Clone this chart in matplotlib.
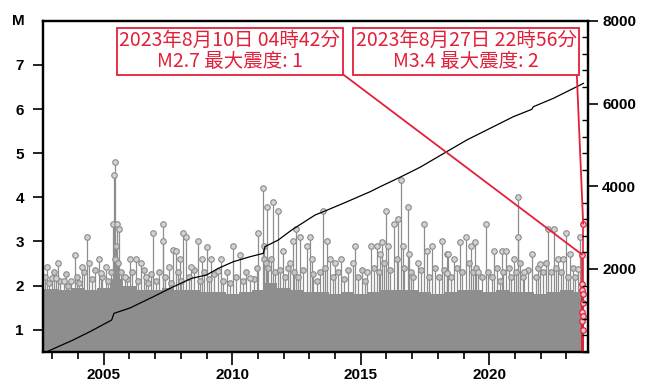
import matplotlib
matplotlib.use('Agg')
import matplotlib.pyplot as plt
from matplotlib.ticker import MultipleLocator

plt.rcParams['font.family'] = ['Liberation Sans', 'DejaVu Sans']
plt.rcParams['ytick.major.size'] = 7
plt.rcParams['ytick.major.pad'] = 7
plt.rcParams['ytick.major.width'] = 1.2
plt.rcParams['xtick.major.size'] = 9
plt.rcParams['xtick.major.pad'] = 2.5
plt.rcParams['xtick.major.width'] = 1.2
plt.rcParams['xtick.minor.size'] = 5
plt.rcParams['xtick.minor.width'] = 1.2

# ---- data ----
# notable events with visible circles: decimal year, magnitude
ev_year = [2002.80, 2002.97, 2003.14, 2003.23, 2003.45, 2003.71, 2003.88, 2004.14,
           2004.35, 2004.44, 2004.80, 2004.89, 2005.09, 2005.40, 2005.42, 2005.38,
           2005.51, 2005.60, 2005.82, 2006.02, 2006.25, 2006.47, 2006.64, 2006.93,
           2007.29, 2007.30, 2007.54, 2007.68, 2007.81,
           2007.97, 2008.09, 2008.20, 2008.39, 2008.65, 2008.83, 2009.00, 2009.17,
           2009.46, 2009.56, 2010.04, 2010.30, 2010.69, 2011.01, 2011.21, 2011.34,
           2011.57, 2011.79, 2011.98, 2012.25, 2012.35, 2012.48, 2012.63, 2012.90,
           2013.02,
           2013.09, 2013.54, 2013.67, 2013.80, 2014.00, 2014.23, 2014.69, 2014.77,
           2015.23, 2015.40, 2015.62, 2015.75, 2015.81, 2015.98, 2016.05, 2016.30,
           2016.46, 2016.55, 2016.63, 2016.82, 2016.88, 2017.24, 2017.46, 2017.56,
           2017.78, 2018.15, 2018.37,
           2018.34, 2018.40, 2018.64, 2018.86, 2019.09, 2019.29, 2019.44, 2019.57,
           2019.86, 2020.19, 2020.48, 2020.64, 2020.95, 2021.11, 2021.12, 2021.36,
           2021.65, 2021.97, 2022.30, 2022.53, 2022.69, 2022.87, 2022.97, 2023.14,
           2023.46, 2023.53]
ev_mag = [2.41, 2.18, 2.18, 2.50, 2.10, 2.10, 2.70, 2.41,
          3.09, 2.50, 2.60, 2.29, 2.41, 4.50, 4.79, 3.40,
          3.40, 3.29, 2.20, 2.60, 2.60, 2.50, 2.20, 3.20,
          3.40, 3.00, 2.42, 2.81, 2.79,
          2.60, 3.20, 3.09, 2.41, 3.01, 2.60, 2.88, 2.60,
          2.34, 2.60, 2.90, 2.70, 2.18, 3.20, 4.20, 3.79,
          3.90, 3.69, 2.79, 2.50, 3.01, 3.28, 3.09, 2.90,
          3.09,
          2.60, 3.69, 3.00, 2.60, 2.50, 2.60, 2.50, 2.90,
          2.30, 2.90, 2.90, 2.71, 2.98, 3.69, 2.90, 3.39,
          3.50, 4.39, 2.90, 3.78, 2.71, 2.50, 3.39, 2.79,
          2.90, 3.00, 2.71,
          2.28, 2.71, 2.60, 2.99, 3.10, 2.90, 2.99, 2.30,
          3.39, 2.79, 2.79, 2.79, 2.60, 3.09, 4.00, 2.30,
          2.71, 2.48, 3.29, 3.29, 2.60, 2.60, 3.18, 2.71,
          2.37, 3.09]

# smaller events forming the ragged top of the grey mass
minor_year = [2002.70, 2002.88, 2003.05, 2003.30, 2003.55, 2003.62, 2003.95, 2004.05,
              2004.22, 2004.55, 2004.65, 2004.95, 2005.18, 2005.30, 2005.45, 2005.48,
              2005.55, 2005.68, 2005.90, 2006.10, 2006.35, 2006.55, 2006.72, 2006.85,
              2007.05, 2007.15, 2007.40, 2007.60, 2007.90, 2008.00, 2008.30, 2008.50,
              2008.75, 2008.92, 2009.08, 2009.30, 2009.65, 2009.80, 2009.92, 2010.15,
              2010.40, 2010.55, 2010.85, 2010.95, 2011.22, 2011.25, 2011.30, 2011.40,
              2011.50, 2011.65, 2011.85, 2012.05, 2012.15, 2012.40, 2012.55, 2012.75,
              2013.15, 2013.30, 2013.42, 2013.60, 2013.90, 2014.10, 2014.35, 2014.50,
              2014.90, 2015.05, 2015.15, 2015.50, 2015.70, 2015.90, 2016.15, 2016.40,
              2016.70, 2016.95, 2017.05, 2017.35, 2017.65, 2017.90, 2018.05, 2018.25,
              2018.50, 2018.75, 2018.95, 2019.20, 2019.35, 2019.50, 2019.70, 2019.95,
              2020.10, 2020.30, 2020.40, 2020.55, 2020.75, 2020.85, 2021.05, 2021.20,
              2021.30, 2021.50, 2021.80, 2021.90, 2022.10, 2022.20, 2022.40, 2022.60,
              2022.80, 2023.05, 2023.25, 2023.35]
minor_mag = [2.20, 2.05, 2.30, 2.10, 2.25, 2.00, 2.20, 2.05,
             2.30, 2.15, 2.35, 2.20, 2.10, 2.30, 2.60, 2.90,
             2.50, 2.30, 2.15, 2.30, 2.10, 2.35, 2.05, 2.25,
             2.10, 2.30, 2.20, 2.05, 2.30, 2.10, 2.20, 2.35,
             2.10, 2.30, 2.15, 2.25, 2.10, 2.30, 2.05, 2.20,
             2.10, 2.30, 2.15, 2.40, 2.60, 2.90, 2.50, 2.40,
             2.60, 2.30, 2.35, 2.20, 2.40, 2.30, 2.20, 2.35,
             2.25, 2.10, 2.30, 2.40, 2.20, 2.30, 2.15, 2.35,
             2.20, 2.35, 2.10, 2.40, 2.30, 2.50, 2.35, 2.60,
             2.40, 2.30, 2.20, 2.35, 2.20, 2.40, 2.20, 2.35,
             2.20, 2.40, 2.30, 2.50, 2.30, 2.40, 2.20, 2.30,
             2.20, 2.40, 2.10, 2.30, 2.40, 2.20, 2.30, 2.50,
             2.20, 2.35, 2.20, 2.40, 2.30, 2.50, 2.30, 2.40,
             2.30, 2.20, 2.40, 2.20]

# dense body of small events: top of the solid grey mass (half-year steps)
body_year = [2002.65, 2003.25, 2003.75, 2004.25, 2004.75, 2005.25, 2005.75, 2006.25,
             2006.75, 2007.25, 2007.75, 2008.25, 2008.75, 2009.25, 2009.75, 2010.25,
             2010.75, 2011.25, 2011.75, 2012.25, 2012.75, 2013.25, 2013.75, 2014.25,
             2014.75, 2015.25, 2015.75, 2016.25, 2016.75, 2017.25, 2017.75, 2018.25,
             2018.75, 2019.25, 2019.75, 2020.25, 2020.75, 2021.25, 2021.75, 2022.25,
             2022.75, 2023.25, 2023.58]
body_mag = [1.92, 1.90, 1.95, 1.90, 1.95, 2.15, 2.00, 1.90,
            1.90, 1.95, 1.90, 1.90, 1.85, 1.85, 1.80, 1.85,
            1.90, 2.05, 1.95, 1.90, 1.85, 1.85, 1.80, 1.85,
            1.80, 1.85, 1.90, 1.90, 1.90, 1.85, 1.80, 1.85,
            1.90, 1.90, 1.85, 1.90, 1.85, 1.85, 1.80, 1.85,
            1.90, 1.85, 1.85]

# cumulative number of events (right axis)
cum_year = [2002.79, 2003.81, 2004.46, 2005.31, 2005.40, 2006.02, 2006.93, 2007.58,
            2008.42, 2009.00, 2009.46, 2010.04, 2010.69, 2011.21, 2011.27, 2011.79,
            2012.31, 2013.22, 2013.54, 2014.32, 2015.36, 2015.75, 2016.52, 2017.30,
            2018.34, 2019.12, 2020.03, 2020.93, 2021.65, 2021.71, 2022.49, 2023.27,
            2023.66]
cum_count = [0, 283, 483, 766, 928, 1056, 1329, 1532,
             1774, 1854, 2016, 2175, 2296, 2378, 2538, 2700,
             2941, 3304, 3384, 3587, 3867, 3988, 4215, 4457,
             4834, 5117, 5400, 5680, 5859, 5922, 6125, 6366,
             6487]

# August 2023 events (red)
red_year = [2023.600, 2023.605, 2023.615, 2023.620, 2023.630, 2023.640, 2023.645, 2023.660]
red_mag = [1.90, 1.20, 2.04, 1.40, 1.60, 1.00, 1.80, 1.30]
ann_year = [2023.61, 2023.65]
ann_mag = [2.7, 3.4]
ann_text = ['2023年8月10日 04時42分\nM2.7 最大震度: 1',
            '2023年8月27日 22時56分\nM3.4 最大震度: 2']

x_ticks = [2005, 2010, 2015, 2020]
m_ticks = [1, 2, 3, 4, 5, 6, 7]
cum_ticks = [2000, 4000, 6000, 8000]

GRAY = '#8e8e8e'
RED = '#e2203a'

fig = plt.figure(figsize=(6.52, 3.85), dpi=100)
ax = fig.add_axes([0.0664, 0.0865, 0.8359, 0.8595])

ax.fill_between(body_year, 0.5, body_mag, step='post', color=GRAY, lw=0, zorder=1)
ax.vlines(minor_year, 0.5, minor_mag, color=GRAY, lw=0.9, zorder=2)
ax.plot(minor_year, minor_mag, 'o', ms=4, mfc='#c4c4c4', mec='#8a8a8a', mew=0.8, zorder=3)
ax.vlines(ev_year, 0.5, ev_mag, color=GRAY, lw=0.9, zorder=2)
ax.plot(ev_year, ev_mag, 'o', ms=4, mfc='#d2d2d2', mec='#8a8a8a', mew=0.8, zorder=3)

all_red_y = red_year + ann_year
all_red_m = red_mag + ann_mag
ax.vlines(all_red_y, 0.5, all_red_m, color=RED, lw=1.2, zorder=4)
ax.plot(all_red_y, all_red_m, 'o', ms=4, mfc='#f4c0c8', mec=RED, mew=0.9, zorder=5)

ax.set_xlim(2002.65, 2023.85)
ax.set_ylim(0.5, 8)
ax.set_xticks(x_ticks)
ax.xaxis.set_minor_locator(MultipleLocator(1))
ax.set_yticks(m_ticks)
ax.text(-0.046, 1.0, 'M', transform=ax.transAxes, ha='center', va='center',
        fontsize=11, fontweight='bold')

ax2 = ax.twinx()
ax2.plot(cum_year, cum_count, color='black', lw=0.9, zorder=6)
ax2.set_ylim(0, 8000)
ax2.set_yticks(cum_ticks)
ax2.yaxis.set_minor_locator(MultipleLocator(400))
ax2.tick_params(axis='y', which='major', direction='out', length=7, width=1.2, pad=3)
ax2.tick_params(axis='y', which='minor', direction='in', length=4, width=1.0)
ax.tick_params(axis='y', which='major', direction='out', length=7, width=1.2, pad=7)

for lab in ax.get_xticklabels() + ax.get_yticklabels() + ax2.get_yticklabels():
    lab.set_fontsize(11)
    lab.set_fontweight('bold')

for a in (ax, ax2):
    for s in a.spines.values():
        s.set_linewidth(1.6)

text_pos = [(0.342, 0.908), (0.776, 0.908)]
for t, xv, mv, pos in zip(ann_text, ann_year, ann_mag, text_pos):
    ax2.annotate(t, xy=(xv, mv), xycoords=ax.transData,
                 xytext=pos, textcoords='axes fraction',
                 ha='center', va='center', fontsize=14, color=RED,
                 family=['Noto Sans CJK JP', 'DejaVu Sans'], linespacing=1.0,
                 bbox=dict(boxstyle='square,pad=0.12', fc='white', ec=RED, lw=1.3),
                 arrowprops=dict(arrowstyle='-', color=RED, lw=1.3,
                                 relpos=(1, 0), shrinkA=0, shrinkB=0),
                 zorder=10)

fig.savefig('out.png', dpi=100)
